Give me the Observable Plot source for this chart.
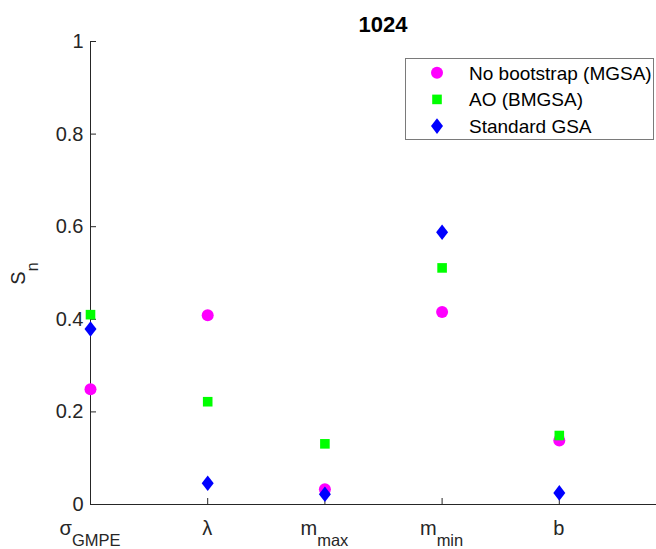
<!DOCTYPE html>
<html><head><meta charset="utf-8">
<script src="https://cdn.jsdelivr.net/npm/d3@7"></script>
<script src="https://cdn.jsdelivr.net/npm/@observablehq/plot@0.6"></script>
<style>
html,body{margin:0;padding:0;background:#fff;overflow:hidden;}
#chart{position:relative;width:656px;height:549px;}
</style></head><body><div id="chart"></div>
<script>
const title = "1024";
const categories = ["σ_GMPE", "λ", "m_max", "m_min", "b"];
const catMain = ["σ", "λ", "m", "m", "b"];
const catSub = ["GMPE", "", "max", "min", ""];
const noBootstrap = [0.249, 0.409, 0.033, 0.416, 0.138];
const aoBMGSA = [0.410, 0.222, 0.131, 0.511, 0.149];
const standardGSA = [0.379, 0.046, 0.022, 0.588, 0.025];
const seriesNames = ["No bootstrap (MGSA)", "AO (BMGSA)", "Standard GSA"];
const seriesColors = ["#ff00ff", "#00ff00", "#0000ff"];
const yTicks = [0, 0.2, 0.4, 0.6, 0.8, 1];
const yTickLabels = ["0", "0.2", "0.4", "0.6", "0.8", "1"];
const yLabelMain = "S", yLabelSub = "n";

const ink = "#262626";
const font = "'Liberation Sans', Arial, Helvetica, sans-serif";

const circleSym = {draw(ctx) { ctx.moveTo(6, 0); ctx.arc(0, 0, 6, 0, 2 * Math.PI); ctx.closePath(); }};
const squareSym = {draw(ctx) { const s = 4.8; ctx.moveTo(-s, -s); ctx.lineTo(s, -s); ctx.lineTo(s, s); ctx.lineTo(-s, s); ctx.closePath(); }};
const diamondSym = {draw(ctx) { ctx.moveTo(0, -7.8); ctx.lineTo(6, 0); ctx.lineTo(0, 7.8); ctx.lineTo(-6, 0); ctx.closePath(); }};
const symbols = [circleSym, squareSym, diamondSym];

const seriesValues = [noBootstrap, aoBMGSA, standardGSA];
const rows = [];
seriesValues.forEach((vals, s) => vals.forEach((v, i) => rows.push({x: i, y: v, s, cat: categories[i]})));

const xIdx = d3.range(categories.length);

const plot = Plot.plot({
  width: 656, height: 549,
  marginLeft: 90, marginRight: -20, marginTop: 41, marginBottom: 45,
  x: {domain: [0, 5]},
  y: {domain: [0, 1]},
  style: {fontFamily: font, background: "white", color: ink},
  marks: [
    Plot.ruleX([0], {stroke: ink, strokeWidth: 1}),
    Plot.ruleY([0], {stroke: ink, strokeWidth: 1}),
    Plot.axisY(yTicks, {tickSize: -6, tickPadding: 13, tickFormat: d => yTickLabels[yTicks.indexOf(d)], fontSize: 20, stroke: ink, fill: ink, label: null}),
    Plot.axisX(xIdx, {tickSize: -6, tickFormat: () => "", stroke: ink, label: null}),
    ...seriesValues.map((_, s) => Plot.dot(rows.filter(r => r.s === s), {
      x: "x", y: "y", fill: seriesColors[s], stroke: "none", symbol: symbols[s], r: 6
    }))
  ]
});
document.getElementById("chart").appendChild(plot);

const svg = d3.select(plot);
const xs = plot.scale("x"), ys = plot.scale("y");
const x0 = xs.apply(0), x5 = xs.apply(5), yBottom = ys.apply(0), yTop = ys.apply(1);

// title
svg.append("text").attr("x", (x0 + x5) / 2).attr("y", yTop - 9)
  .attr("text-anchor", "middle").attr("font-family", font).attr("font-weight", "bold")
  .attr("font-size", 22).attr("fill", "#000").text(title);

// x tick labels with subscripts
xIdx.forEach(i => {
  const t = svg.append("text").attr("x", xs.apply(i)).attr("y", yBottom + 31)
    .attr("text-anchor", "middle").attr("font-family", font).attr("fill", ink);
  t.append("tspan").attr("font-size", 20).text(catMain[i]);
  if (catSub[i]) t.append("tspan").attr("font-size", 16.5).attr("dy", 11).text(catSub[i]);
});

// y label
{
  const cy = (yTop + yBottom) / 2;
  const t = svg.append("text").attr("transform", `translate(25,${cy + 1}) rotate(-90)`)
    .attr("text-anchor", "middle").attr("font-family", font).attr("fill", ink);
  t.append("tspan").attr("font-size", 20).text(yLabelMain);
  t.append("tspan").attr("font-size", 16).attr("dy", 13).text(yLabelSub);
}

// legend
{
  const g = svg.append("g");
  g.append("rect").attr("x", 405.5).attr("y", 58.5).attr("width", 248).attr("height", 81)
    .attr("fill", "white").attr("stroke", "#7a7a7a").attr("stroke-width", 1);
  seriesNames.forEach((name, s) => {
    const cy = 72.7 + s * 26.7;
    g.append("path").attr("transform", `translate(437,${cy})`)
      .attr("d", d3.symbol(symbols[s])()).attr("fill", seriesColors[s]);
    g.append("text").attr("x", 469).attr("y", cy + 7).attr("font-family", font)
      .attr("text-anchor", "start")
      .attr("font-size", 19).attr("fill", "#000").text(name);
  });
}
</script></body></html>
